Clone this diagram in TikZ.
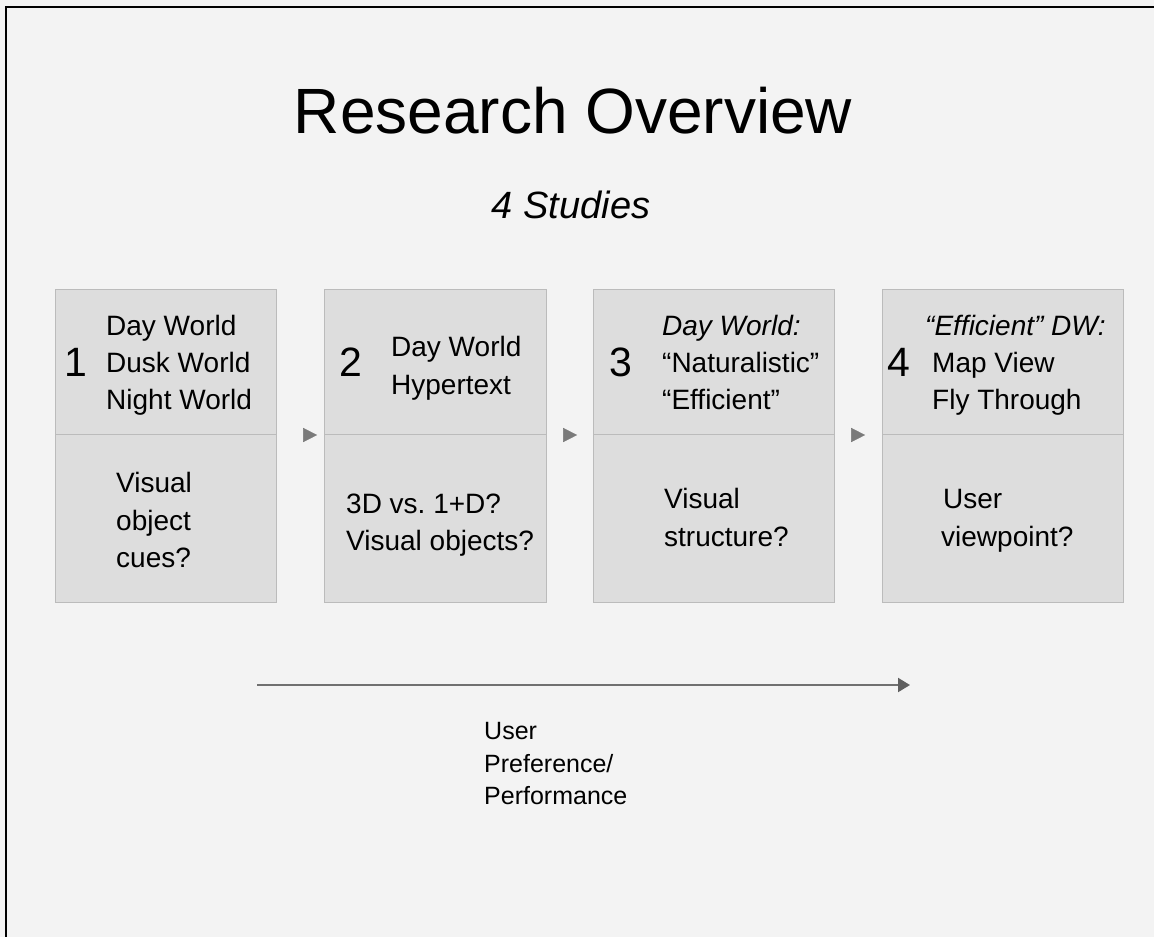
\documentclass[tikz,border=0pt]{standalone}
\usepackage{fontspec}
\setmainfont{Liberation Sans}
\usetikzlibrary{arrows.meta,positioning}
\frenchspacing

\definecolor{pagebg}{HTML}{F3F3F3}
\definecolor{boxfill}{HTML}{DDDDDD}
\definecolor{boxline}{HTML}{BBBBBB}
\definecolor{tipgray}{HTML}{7A7A7A}
\definecolor{axisgray}{HTML}{707070}
\definecolor{axistip}{HTML}{5F5F5F}

\tikzset{
  panel/.style={draw=boxline, fill=boxfill, line width=1.2pt, inner sep=0pt},
  txt/.style={anchor=base west, inner sep=0pt, font=\fontsize{28}{28}\selectfont},
  itxt/.style={txt, font=\fontsize{28}{28}\selectfont\itshape},
  num/.style={anchor=base west, inner sep=0pt, font=\fontsize{41}{41}\selectfont},
  axlabel/.style={anchor=base west, inner sep=0pt, font=\fontsize{25}{25}\selectfont},
  flowtip/.style={draw=pagebg, line width=0.5pt,
    -{Triangle[length=14pt, width=14pt, color=tipgray, fill=tipgray]}},
  axis/.style={draw=axisgray, line width=2pt,
    -{Triangle[length=12pt, width=14pt, color=axistip, fill=axistip]}},
}

\begin{document}
\begin{tikzpicture}[x=1pt, y=-1pt]
  % canvas
  \fill[pagebg] (0,0) rectangle (1154,937);
  \useasboundingbox (0,0) rectangle (1154,937);
  \draw[line width=2.5pt, line cap=rect] (6,937) -- (6,7) -- (1154,7);

  % headings
  \node[anchor=base, inner sep=0pt, font=\fontsize{64}{64}\selectfont] (title) at (573,133) {Research Overview};
  \node[anchor=base, inner sep=0pt, font=\fontsize{38}{38}\selectfont\itshape] (sub) at (571,218) {4 Studies};

  % study panels: upper and lower halves
  \node[panel, minimum width=221pt, minimum height=145pt, anchor=north west] (b1t) at (55,289) {};
  \node[panel, minimum width=221pt, minimum height=168pt, anchor=north west] (b1b) at (55,434) {};
  \node[panel, minimum width=222pt, minimum height=145pt, anchor=north west] (b2t) at (324,289) {};
  \node[panel, minimum width=222pt, minimum height=168pt, anchor=north west] (b2b) at (324,434) {};
  \node[panel, minimum width=241pt, minimum height=145pt, anchor=north west] (b3t) at (593,289) {};
  \node[panel, minimum width=241pt, minimum height=168pt, anchor=north west] (b3b) at (593,434) {};
  \node[panel, minimum width=241pt, minimum height=145pt, anchor=north west] (b4t) at (882,289) {};
  \node[panel, minimum width=241pt, minimum height=168pt, anchor=north west] (b4b) at (882,434) {};

  % study 1
  \node[num] (n1) at (64,376) {1};
  \node[txt] (s1a) at (106,335) {Day World};
  \node[txt] (s1b) at (106,372) {Dusk World};
  \node[txt] (s1c) at (106,409) {Night World};
  \node[txt] (q1a) at (116,492) {Visual};
  \node[txt] (q1b) at (116,530) {object};
  \node[txt] (q1c) at (116,567) {cues?};

  % study 2
  \node[num] (n2) at (339,376) {2};
  \node[txt] (s2a) at (391,356) {Day World};
  \node[txt] (s2b) at (391,394) {Hypertext};
  \node[txt] (q2a) at (346,513) {3D vs. 1+D?};
  \node[txt] (q2b) at (346,550) {Visual objects?};

  % study 3
  \node[num] (n3) at (609,376) {3};
  \node[itxt] (s3a) at (662,335) {Day World:};
  \node[txt] (s3b) at (662,372) {“Naturalistic”};
  \node[txt] (s3c) at (662,409) {“Efficient”};
  \node[txt] (q3a) at (664,508) {Visual};
  \node[txt] (q3b) at (664,546) {structure?};

  % study 4
  \node[num] (n4) at (887,376) {4};
  \node[itxt] (s4a) at (925,335) {“Efficient” DW:};
  \node[txt] (s4b) at (932,372) {Map View};
  \node[txt] (s4c) at (932,409) {Fly Through};
  \node[txt] (q4a) at (943,508) {User};
  \node[txt] (q4b) at (941,546) {viewpoint?};

  % sequence markers between the studies
  \draw[flowtip] ([xshift=3pt,yshift=-1pt]b1b.north east) -- ([xshift=40pt,yshift=-1pt]b1b.north east);
  \draw[flowtip] ([xshift=3pt,yshift=-1pt]b2b.north east) -- ([xshift=30pt,yshift=-1pt]b2b.north east);
  \draw[flowtip] ([xshift=3pt,yshift=-1pt]b3b.north east) -- ([xshift=30pt,yshift=-1pt]b3b.north east);

  % preference / performance axis
  \coordinate (axL) at (257,685);
  \coordinate (axR) at (910,685);
  \draw[axis] (axL) -- (axR);
  \node[axlabel] (lab1) at (484,739) {User};
  \node[axlabel] (lab2) at (484,772) {Preference/};
  \node[axlabel] (lab3) at (484,804) {Performance};
\end{tikzpicture}
\end{document}
